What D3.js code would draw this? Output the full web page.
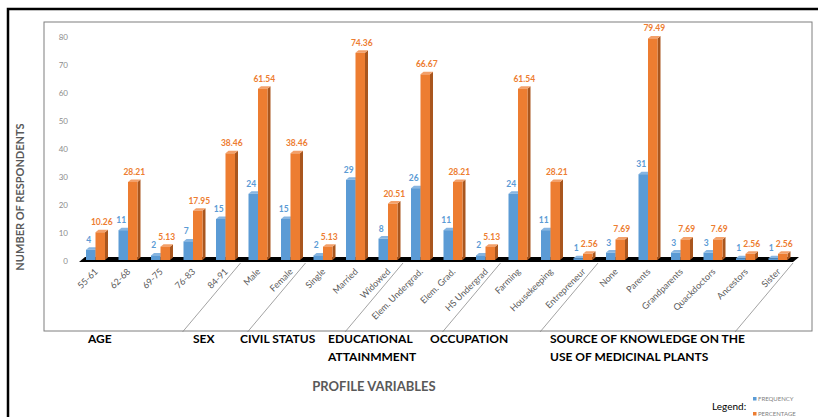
<!DOCTYPE html>
<html lang="en">
<head>
  <meta charset="UTF-8">
  <title>Profile Variables of Respondents</title>
  <script src="https://d3js.org/d3.v7.min.js"></script>
  <style>
    body {
      margin: 0;
      background: #fff;
      font-family: Lato, "Open Sans", Arial, sans-serif;
    }
    svg { display: block; }
  </style>
</head>
<body>
  <svg id="chart" width="818" height="417"></svg>

  <script>
    // Chart data.
    const categories = ["55-61", "62-68", "69-75", "76-83", "84-91", "Male", "Female",
      "Single", "Married", "Widowed", "Elem. Undergrad.", "Elem. Grad.", "HS Undergrad",
      "Farming", "Housekeeping", "Entrepreneur", "None", "Parents", "Grandparents",
      "Quackdoctors", "Ancestors", "Sister"];
    const frequency = [4, 11, 2, 7, 15, 24, 15, 2, 29, 8, 26, 11, 2, 24, 11, 1, 3, 31, 3, 3, 1, 1];
    const percentage = [10.26, 28.21, 5.13, 17.95, 38.46, 61.54, 38.46, 5.13, 74.36, 20.51,
      66.67, 28.21, 5.13, 61.54, 28.21, 2.56, 7.69, 79.49, 7.69, 7.69, 2.56, 2.56];
    const groupNames = [["AGE"], ["SEX"], ["CIVIL STATUS"], ["EDUCATIONAL", "ATTAINMMENT"],
      ["OCCUPATION"], ["SOURCE OF KNOWLEDGE ON THE", "USE OF MEDICINAL PLANTS"]];
    const groupSizes = [5, 2, 3, 3, 3, 6];
    const seriesNames = ["FREQUENCY", "PERCENTAGE"];
    const yTicks = [0, 10, 20, 30, 40, 50, 60, 70, 80];

    // Layout.
    const groupLabelX = [88, 193, 240, 328, 430, 550];
    const colors = {
      FREQUENCY: { front: "#5B9BD5", side: "#3E73A6", top: "#86B5E1", text: "#5B9BD5", shift: -2 },
      PERCENTAGE: { front: "#ED7D31", side: "#A9561E", top: "#F3A06A", text: "#ED7D31", shift: 1.5 }
    };
    const depth = { dx: 3, dy: -2.5 };

    const svg = d3.select("#chart");

    // Outer border and inner plot frame.
    svg.append("rect")
       .attr("x", 8).attr("y", 9).attr("width", 830).attr("height", 430)
       .attr("fill", "none").attr("stroke", "#000").attr("stroke-width", 2.5);
    svg.append("rect")
       .attr("x", 44).attr("y", 22).attr("width", 768).attr("height", 309)
       .attr("fill", "none").attr("stroke", "#7f7f7f").attr("stroke-width", 1);

    // Scales.
    const x = d3.scaleBand().domain(categories).range([81, 796]);
    const xs = d3.scaleBand().domain(seriesNames).range([5, 24]);
    const y = d3.scaleLinear().domain([0, 80]).range([261, 37]);

    // Y tick labels (no axis line).
    svg.append("g").selectAll("text")
       .data(yTicks)
       .join("text")
       .attr("x", 68)
       .attr("y", d => y(d))
       .attr("dy", "0.35em")
       .attr("text-anchor", "end")
       .attr("font-size", 8)
       .attr("fill", "#8c8c8c")
       .text(d => d);

    // Black 3D floor.
    const [r0, r1] = x.range();
    svg.append("path")
       .attr("d", `M${r0 - 2},${y(0) + 1} L${r1 - 3},${y(0) + 1} L${r1 + 3},${y(0) - 4} L${r0 + 4},${y(0) - 4} Z`)
       .attr("fill", "#000");

    // 3D bars.
    const bars = [];
    categories.forEach((c, i) => {
      bars.push({ cat: c, series: "FREQUENCY", value: frequency[i] });
      bars.push({ cat: c, series: "PERCENTAGE", value: percentage[i] });
    });

    const barG = svg.append("g");
    bars.forEach(d => {
      const x0 = x(d.cat) + xs(d.series);
      const w = xs.bandwidth();
      const yt = y(d.value);
      const yb = y(0) - 1;
      const col = colors[d.series];
      // side face
      barG.append("path")
          .attr("d", `M${x0 + w},${yt} L${x0 + w + depth.dx},${yt + depth.dy} L${x0 + w + depth.dx},${yb + depth.dy} L${x0 + w},${yb} Z`)
          .attr("fill", col.side);
      // top face
      barG.append("path")
          .attr("d", `M${x0},${yt} L${x0 + depth.dx},${yt + depth.dy} L${x0 + w + depth.dx},${yt + depth.dy} L${x0 + w},${yt} Z`)
          .attr("fill", col.top);
      // front face
      barG.append("rect")
          .attr("x", x0).attr("y", yt)
          .attr("width", w).attr("height", yb - yt)
          .attr("fill", col.front);
      // value label
      barG.append("text")
          .attr("x", x0 + w / 2 + col.shift)
          .attr("y", yt - 7)
          .attr("text-anchor", "middle")
          .attr("font-size", 8.5)
          .attr("font-weight", "bold")
          .attr("fill", col.text)
          .text(d.value);
    });

    // Category labels, rotated.
    svg.append("g").selectAll("text")
       .data(categories)
       .join("text")
       .attr("transform", d => `translate(${x(d) + x.bandwidth() / 2 - 1}, 270) rotate(-45)`)
       .attr("text-anchor", "end")
       .attr("dy", "0.35em")
       .attr("font-size", 9)
       .attr("fill", "#595959")
       .text(d => d);

    // Group separator lines (slanted).
    let idx = 0;
    const bounds = [];
    groupSizes.forEach(n => { idx += n; bounds.push(idx); });
    svg.append("g").selectAll("line")
       .data(bounds)
       .join("line")
       .attr("x1", d => r0 + d * x.step() - 3)
       .attr("y1", 263)
       .attr("x2", d => r0 + d * x.step() - 61)
       .attr("y2", 332)
       .attr("stroke", "#8c8c8c")
       .attr("stroke-width", 0.8);

    // Group labels.
    groupNames.forEach((lines, i) => {
      lines.forEach((t, j) => {
        svg.append("text")
           .attr("x", groupLabelX[i])
           .attr("y", 343 + j * 18)
           .attr("font-size", 12)
           .attr("font-weight", "bold")
           .attr("fill", "#000")
           .text(t);
      });
    });

    // Axis titles.
    svg.append("text")
       .attr("transform", "translate(24, 197) rotate(-90)")
       .attr("text-anchor", "middle")
       .attr("font-size", 11)
       .attr("font-weight", "bold")
       .attr("fill", "#595959")
       .text("NUMBER OF RESPONDENTS");
    svg.append("text")
       .attr("x", 374).attr("y", 391)
       .attr("text-anchor", "middle")
       .attr("font-size", 13)
       .attr("font-weight", "bold")
       .attr("fill", "#595959")
       .text("PROFILE VARIABLES");

    // Legend.
    svg.append("text")
       .attr("x", 712).attr("y", 410)
       .attr("font-size", 10)
       .attr("fill", "#000")
       .text("Legend:");
    const leg = svg.append("g").selectAll("g")
       .data(seriesNames)
       .join("g")
       .attr("transform", (d, i) => `translate(753, ${397 + i * 15})`);
    leg.append("rect")
       .attr("width", 3.5).attr("height", 3.5)
       .attr("fill", d => colors[d].front);
    leg.append("text")
       .attr("x", 5).attr("y", 3.5)
       .attr("font-size", 6)
       .attr("fill", "#7f7f7f")
       .text(d => d);
  </script>
</body>
</html>
